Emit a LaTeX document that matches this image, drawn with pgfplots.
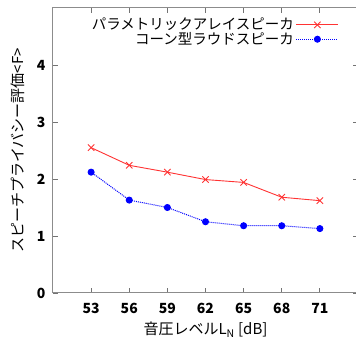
\documentclass[border=0pt]{standalone}
\usepackage{fontspec}
\setmainfont{Noto Sans CJK JP}
\usepackage{pgfplots}
\pgfplotsset{compat=1.18}
\begin{document}
\begin{tikzpicture}
\begin{axis}[
  name=ax,
  scale only axis, width=305pt, height=285pt,
  xmin=50, xmax=74, ymin=0, ymax=5,
  xtick={53,56,59,62,65,68,71}, ytick={0,1,2,3,4},
  tick align=inside, major tick length=5pt,
  axis line style={black!45, line width=1pt},
  tick style={black!55, line width=0.9pt},
  /pgf/number format/assume math mode=true,
  every tick label/.append style={font=\bfseries\fontsize{14}{14}\selectfont},
  xticklabel style={yshift=-7pt},
  yticklabel style={xshift=-4pt},
  xlabel={音圧レベルL\textsubscript{N} [dB]},
  ylabel={スピーチプライバシー評価<F>},
  xlabel style={at={(axis description cs:0.5,-0.13)}, anchor=center},
  ylabel style={at={(axis description cs:-0.115,0.5)}, anchor=center},
  label style={font=\fontsize{15}{15}\selectfont},
  legend cell align=right, legend plot pos=right,
  legend style={draw=none, fill=none, at={(rel axis cs:0.938,0.972)}, anchor=north east,
    font=\fontsize{14.5}{14.5}\selectfont, row sep=-3pt, inner sep=0pt},
  legend image code/.code={\draw[mark repeat=2,mark phase=2,#1] plot coordinates {(0pt,0pt) (21pt,0pt) (42pt,0pt)};},
]
\addplot[red!80, line width=0.9pt, mark=x, mark size=4.5pt] coordinates {
 (53,2.55) (56,2.24) (59,2.12) (62,1.99) (65,1.94) (68,1.68) (71,1.62)};
\addlegendentry{パラメトリックアレイスピーカ}
\addplot[blue, line width=1pt, densely dotted, mark=*, mark size=3pt, mark options={solid}] coordinates {
 (53,2.12) (56,1.63) (59,1.50) (62,1.25) (65,1.18) (68,1.18) (71,1.13)};
\addlegendentry{コーン型ラウドスピーカ}
\end{axis}
\pgfresetboundingbox
\path (ax.south west) ++(-53pt,-46pt) rectangle ++(356pt,339pt);
\end{tikzpicture}
\end{document}
